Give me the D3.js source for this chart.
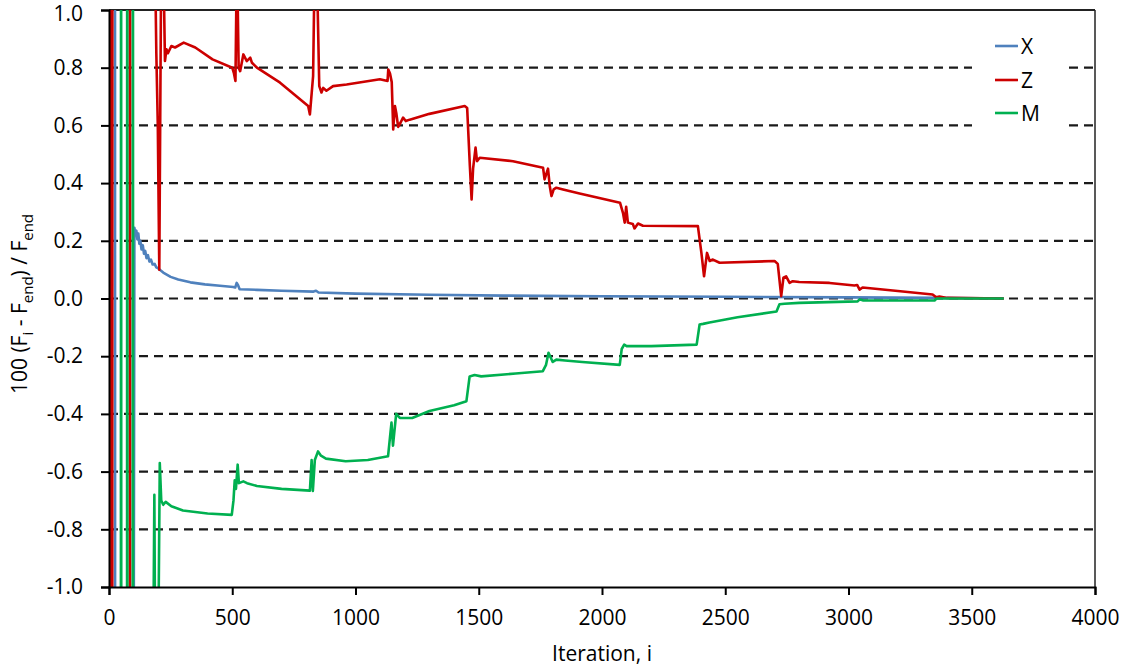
<!DOCTYPE html>
<html><head><meta charset="utf-8">
<script src="https://cdn.jsdelivr.net/npm/d3@7"></script>
<style>body{margin:0;background:#fff;} text{font-family:"Open Sans",Lato,sans-serif;}</style>
</head><body>
<svg id="c" width="1131" height="670"></svg>
<script>
const xTicks = [0,500,1000,1500,2000,2500,3000,3500,4000];
const yTicks = [-1.0,-0.8,-0.6,-0.4,-0.2,0.0,0.2,0.4,0.6,0.8,1.0];
const seriesNames = ["X","Z","M"];
const seriesColors = ["#4f81bd","#cc0000","#00b050"];

// X series [iteration, value]
const dataX = [[0,3],[24,3],[25,-3],[96,-3],[97,-3],[103,0.245],[107,0.225],[111,0.235],[115,0.205],[119,0.225],[123,0.19],[127,0.2],[132,0.17],[137,0.185],[142,0.155],[147,0.165],[152,0.14],[158,0.15],[164,0.128],[170,0.135],[177,0.118],[185,0.12],[192,0.108],[200,0.104],[220,0.09],[250,0.075],[281,0.066],[330,0.056],[389,0.049],[450,0.044],[504,0.04],[512,0.038],[518,0.054],[524,0.045],[530,0.032],[600,0.03],[700,0.027],[830,0.024],[840,0.027],[850,0.021],[1000,0.017],[1300,0.013],[1600,0.01],[2000,0.008],[2500,0.006],[3000,0.004],[3360,0.002],[3630,0.0]];

// Z series
const dataZ = [[0,3],[9,3],[10,-3],[13,-3],[14,3],[84,3],[85,-3],[86,3],[186,3],[188,1.1],[192,0.85],[198,0.6],[204,0.1],[212,1.2],[220,1.2],[227,0.823],[233,0.864],[239,0.85],[253,0.875],[268,0.87],[303,0.887],[350,0.87],[420,0.829],[500,0.80],[507,0.78],[513,0.754],[519,1.2],[526,0.8],[532,0.788],[545,0.846],[559,0.823],[573,0.835],[580,0.817],[600,0.80],[694,0.748],[808,0.667],[815,0.638],[828,0.771],[835,1.2],[842,1.2],[853,0.736],[862,0.714],[869,0.73],[882,0.72],[909,0.736],[964,0.742],[1099,0.76],[1130,0.754],[1133,0.794],[1140,0.78],[1147,0.75],[1153,0.586],[1160,0.667],[1166,0.64],[1173,0.595],[1183,0.61],[1193,0.627],[1204,0.615],[1220,0.62],[1300,0.64],[1443,0.667],[1453,0.66],[1464,0.459],[1471,0.343],[1477,0.45],[1487,0.523],[1493,0.476],[1504,0.488],[1639,0.476],[1761,0.453],[1767,0.413],[1781,0.45],[1788,0.39],[1795,0.355],[1804,0.378],[1815,0.384],[1842,0.378],[1909,0.364],[2073,0.332],[2085,0.297],[2092,0.263],[2098,0.318],[2105,0.263],[2125,0.258],[2132,0.243],[2146,0.26],[2166,0.252],[2389,0.251],[2403,0.16],[2414,0.077],[2426,0.158],[2437,0.13],[2450,0.135],[2477,0.124],[2700,0.13],[2713,0.12],[2727,0.008],[2736,0.072],[2747,0.077],[2761,0.054],[2774,0.06],[2800,0.057],[2923,0.054],[3024,0.045],[3035,0.047],[3045,0.031],[3057,0.038],[3200,0.026],[3341,0.014],[3356,0.004],[3369,0.007],[3400,0.002],[3630,0.0]];

// M series
const dataM = [[0,-3],[48,-3],[49,3],[50,-3],[73,-3],[74,3],[75,-3],[96,-3],[97,3],[98,-3],[178,-3],[179,-1.3],[184,-0.68],[187,-1.2],[200,-1.2],[206,-0.57],[212,-0.7],[220,-0.715],[230,-0.705],[253,-0.72],[300,-0.735],[400,-0.745],[498,-0.75],[505,-0.70],[510,-0.63],[515,-0.66],[522,-0.576],[527,-0.64],[545,-0.634],[560,-0.64],[600,-0.65],[700,-0.66],[815,-0.666],[822,-0.56],[827,-0.667],[835,-0.56],[848,-0.53],[860,-0.545],[880,-0.555],[960,-0.564],[1050,-0.56],[1132,-0.547],[1146,-0.43],[1152,-0.51],[1165,-0.40],[1180,-0.414],[1230,-0.414],[1300,-0.39],[1400,-0.37],[1450,-0.356],[1463,-0.27],[1483,-0.265],[1510,-0.27],[1650,-0.26],[1760,-0.252],[1773,-0.23],[1783,-0.188],[1800,-0.22],[1815,-0.212],[1850,-0.215],[1920,-0.22],[2072,-0.23],[2080,-0.175],[2090,-0.16],[2100,-0.165],[2200,-0.165],[2384,-0.16],[2396,-0.09],[2410,-0.088],[2436,-0.083],[2550,-0.065],[2708,-0.045],[2720,-0.02],[2740,-0.018],[2800,-0.015],[3037,-0.01],[3045,-0.003],[3060,-0.007],[3349,-0.007],[3357,0.0],[3630,0.0]];

const allData = [dataX, dataZ, dataM];

const svg = d3.select("#c");
const L = 109, R = 1095, T = 10, B = 587;
const x = d3.scaleLinear().domain([0,4000]).range([L,R]);
const y = d3.scaleLinear().domain([-1,1]).range([B,T]);

svg.append("defs").append("clipPath").attr("id","clip")
  .append("rect").attr("x",L).attr("y",T).attr("width",R-L).attr("height",B-T);

// grid
const gridG = svg.append("g");
gridG.selectAll("line").data(yTicks.filter(v=>v>-1 && v<1)).join("line")
  .attr("x1",L).attr("x2",R).attr("y1",d=>y(d)).attr("y2",d=>y(d))
  .attr("stroke","#1a1a1a").attr("stroke-width",2.2).attr("stroke-dasharray","9,6");

// plot border top & right
svg.append("line").attr("x1",L).attr("x2",R).attr("y1",y(1)).attr("y2",y(1)).attr("stroke","#222").attr("stroke-width",2.2);
svg.append("line").attr("x1",R).attr("x2",R).attr("y1",T).attr("y2",B).attr("stroke","#222").attr("stroke-width",1.5);

// legend background
svg.append("rect").attr("x",972).attr("y",28).attr("width",96).attr("height",100).attr("fill","#fff");

// series
const line = d3.line().x(d=>x(d[0])).y(d=>y(d[1]));
const sg = svg.append("g").attr("clip-path","url(#clip)");
sg.selectAll("path").data(allData).join("path")
  .attr("d",line).attr("fill","none")
  .attr("stroke",(d,i)=>seriesColors[i]).attr("stroke-width",2.6)
  .attr("stroke-linejoin","round");

// axes
const xAxis = svg.append("g").attr("transform",`translate(0,${B})`)
  .call(d3.axisBottom(x).tickValues(xTicks).tickFormat(d3.format("d")).tickSize(8).tickPadding(15));
const yAxis = svg.append("g").attr("transform",`translate(${L},0)`)
  .call(d3.axisLeft(y).tickValues(yTicks).tickFormat(d3.format(".1f")).tickSize(8).tickPadding(18));
[xAxis,yAxis].forEach(a=>{
  a.select(".domain").attr("stroke","#000").attr("stroke-width",2);
  a.selectAll(".tick line").attr("stroke","#000").attr("stroke-width",2);
  a.selectAll(".tick text").attr("fill","#000").style("font-size","21px").style("font-family","'Open Sans',sans-serif");
});
yAxis.selectAll(".tick text").text(d=>d3.format(".1f")(d).replace("−","-"));
yAxis.selectAll(".tick").filter(d=>d===1).select("text").attr("dy","0.5em");

// axis titles
svg.append("text").attr("x",(L+R)/2).attr("y",661).attr("text-anchor","middle")
  .style("font-size","21px").text("Iteration, i");
const yt = svg.append("text").attr("transform","translate(27,304) rotate(-90)").attr("text-anchor","middle").style("font-size","21px");
yt.append("tspan").text("100 (F");
yt.append("tspan").attr("dy",6).style("font-size","15px").text("i");
yt.append("tspan").attr("dy",-6).text(" - F");
yt.append("tspan").attr("dy",6).style("font-size","15px").text("end");
yt.append("tspan").attr("dy",-6).text(") / F");
yt.append("tspan").attr("dy",6).style("font-size","15px").text("end");

// legend
const lg = svg.append("g");
const ly = [46,80,113];
seriesNames.forEach((n,i)=>{
  lg.append("line").attr("x1",995).attr("x2",1018).attr("y1",ly[i]).attr("y2",ly[i])
    .attr("stroke",seriesColors[i]).attr("stroke-width",2.6);
  lg.append("text").attr("x",1021).attr("y",ly[i]+8).style("font-size","21px").text(n);
});
</script>
</body></html>
